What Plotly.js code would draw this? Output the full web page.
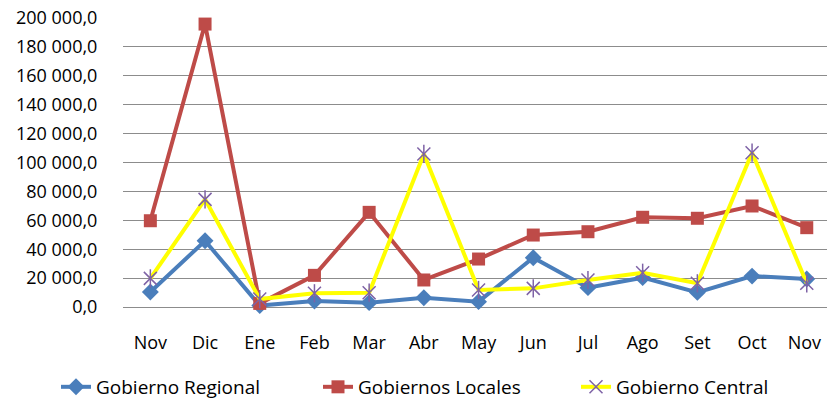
<!DOCTYPE html>
<html>
<head>
<meta charset="utf-8">
<script src="https://cdn.plot.ly/plotly-3.0.1.min.js"></script>
<style>html,body{margin:0;padding:0;background:#fff;}#chart{width:827px;height:401px;}</style>
</head>
<body>
<div id="chart"></div>
<script>
const months = ["Nov", "Dic", "Ene", "Feb", "Mar", "Abr", "May", "Jun", "Jul", "Ago", "Set", "Oct", "Nov "];
const regional = [10400, 45800, 1000, 4200, 3000, 6400, 3700, 34100, 13400, 20300, 10100, 21400, 19400];
const locales = [59700, 195800, 2500, 21900, 65500, 18700, 33200, 49800, 52100, 62100, 61400, 69900, 54900];
const central = [19800, 74500, 5500, 9500, 9900, 105900, 11800, 12900, 18700, 23700, 16400, 106800, 16400];
const yTicks = [0, 20000, 40000, 60000, 80000, 100000, 120000, 140000, 160000, 180000, 200000];
const yTickText = ["0,0", "20 000,0", "40 000,0", "60 000,0", "80 000,0", "100 000,0", "120 000,0", "140 000,0", "160 000,0", "180 000,0", "200 000,0"];

const FONT = "'Open Sans', Lato, sans-serif";
const traces = [
  {x: months, y: regional, name: "Gobierno Regional", type: "scatter", mode: "lines+markers", legend: "legend",
   line: {color: "#4A7EBB", width: 4}, marker: {symbol: "diamond", size: 13, color: "#4A7EBB"}, cliponaxis: false},
  {x: months, y: locales, name: "Gobiernos Locales", type: "scatter", mode: "lines+markers", legend: "legend2",
   line: {color: "#BE4B48", width: 4}, marker: {symbol: "square", size: 13, color: "#BE4B48"}, cliponaxis: false},
  {x: months, y: central, name: "Gobierno Central", type: "scatter", mode: "lines+markers", legend: "legend3",
   line: {color: "#FFFF00", width: 4}, marker: {symbol: "x-thin-open", size: 13, color: "#7E62A6", line: {color: "#7E62A6", width: 1.5}}, cliponaxis: false},
  {x: months, y: central, name: "Gobierno Central", type: "scatter", mode: "markers", showlegend: false, hoverinfo: "skip",
   marker: {symbol: "line-ns-open", size: 13, color: "#7E62A6", line: {color: "#7E62A6", width: 1.5}}, cliponaxis: false}
];

function leg(px) {
  return {orientation: "h", xref: "container", yref: "container", x: px / 827, y: 0.035, xanchor: "left", yanchor: "middle",
    font: {family: FONT, size: 19, color: "#000"}, bgcolor: "rgba(0,0,0,0)"};
}

const layout = {
  width: 827, height: 401,
  margin: {l: 123, r: 0, t: 18, b: 94},
  paper_bgcolor: "#fff", plot_bgcolor: "#fff",
  font: {family: FONT, size: 18, color: "#000"},
  showlegend: true,
  legend: leg(56), legend2: leg(318), legend3: leg(576),
  xaxis: {type: "category", range: [-0.5, 12.37], showgrid: false, zeroline: false, showline: false,
    ticks: "outside", ticklen: 19, tickcolor: "rgba(0,0,0,0)", tickfont: {family: FONT, size: 18}},
  yaxis: {range: [0, 200000], tickvals: yTicks, ticktext: yTickText, showgrid: true, gridcolor: "#8C8C8C", gridwidth: 1,
    zeroline: true, zerolinecolor: "#8C8C8C", zerolinewidth: 1, showline: false,
    ticks: "outside", ticklen: 21, tickcolor: "rgba(0,0,0,0)", tickfont: {family: FONT, size: 18}}
};
Plotly.newPlot("chart", traces, layout, {displayModeBar: false, staticPlot: true});
</script>
</body>
</html>
